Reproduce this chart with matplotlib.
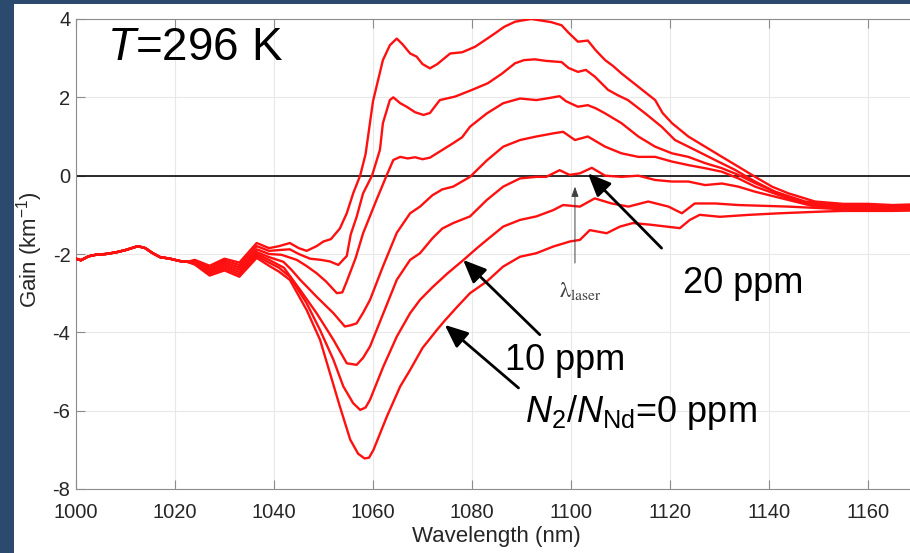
import matplotlib
matplotlib.use('Agg')
import matplotlib.pyplot as plt
from matplotlib.patches import Rectangle

plt.rcParams['font.family'] = ['Liberation Sans', 'DejaVu Sans']
plt.rcParams['mathtext.fontset'] = 'custom'
plt.rcParams['mathtext.rm'] = 'Liberation Sans'
plt.rcParams['mathtext.it'] = 'Liberation Sans:italic'
plt.rcParams['axes.unicode_minus'] = False

# part shared by all curves (they overlap below ~1023 nm)
wl_common = [1000, 1001, 1002.5, 1004, 1006, 1008, 1010, 1011.5, 1012.5, 1014, 1015.5, 1017, 1019, 1021, 1022.5]
g_common = [-2.12, -2.16, -2.06, -2.02, -2.0, -1.96, -1.9, -1.84, -1.8, -1.85, -1.98, -2.08, -2.12, -2.18, -2.2]

# N2/NNd = 60 ppm (top)
wl_60 = [1024, 1027, 1030, 1033, 1036.5, 1039, 1041, 1043.2, 1045, 1046.6, 1048.6, 1050, 1051.5, 1053.3,
         1054.7, 1056, 1057.4, 1058.5, 1060, 1062, 1063.4, 1064.8, 1066, 1067.5, 1068.8, 1070, 1071.5, 1073,
         1075.6, 1078, 1080.6, 1082.5, 1084.6, 1086.5, 1088.7, 1090, 1092, 1094, 1096, 1098.1, 1099.5, 1101.4,
         1103.4, 1105, 1106.9, 1108.5, 1110.2, 1113.6, 1117, 1118.5, 1120.4, 1123.7, 1125, 1127.1, 1130.5,
         1133.8, 1137.2, 1140.6, 1143.9, 1149.3, 1155, 1160, 1165, 1170]
g_60 = [-2.15, -2.3, -2.12, -2.22, -1.72, -1.85, -1.8, -1.72, -1.85, -1.92, -1.8, -1.68, -1.62, -1.35,
        -0.96, -0.45, 0.0, 0.55, 1.9, 2.95, 3.33, 3.5, 3.35, 3.12, 3.04, 2.85, 2.74, 2.85,
        3.12, 3.15, 3.29, 3.45, 3.63, 3.8, 3.93, 3.96, 4.0, 3.96, 3.92, 3.84, 3.65, 3.42,
        3.45, 3.2, 2.95, 2.8, 2.61, 2.27, 1.93, 1.6, 1.34, 1.0, 0.9, 0.74, 0.48,
        0.23, -0.03, -0.28, -0.45, -0.66, -0.72, -0.72, -0.75, -0.73]

# 50 ppm
wl_50 = [1024, 1027, 1030, 1033, 1036.5, 1039, 1041, 1043.2, 1045, 1047.3, 1049.5, 1051.3, 1053, 1054.7,
         1055.5, 1056.7, 1058, 1059.8, 1061.4, 1062, 1063.4, 1064.1, 1065.5, 1066.8, 1068.5, 1070.2, 1071.5,
         1073.5, 1076.6, 1080, 1083.2, 1086, 1088.7, 1090.5, 1092.7, 1095, 1098.1, 1099.5, 1101.4, 1103,
         1104.8, 1107.5, 1109.5, 1111.5, 1115, 1118.3, 1121, 1125, 1129.1, 1133.1, 1137.2, 1141.2, 1147.3,
         1155, 1160, 1165, 1170]
g_50 = [-2.17, -2.34, -2.17, -2.28, -1.8, -1.92, -1.9, -1.88, -2.0, -2.12, -2.15, -2.19, -2.28, -2.05,
        -1.5, -1.05, -0.45, 0.0, 0.66, 1.34, 1.93, 2.0, 1.85, 1.76, 1.62, 1.55, 1.6,
        1.93, 2.02, 2.19, 2.36, 2.6, 2.87, 2.95, 2.97, 2.93, 2.9, 2.75, 2.65, 2.7,
        2.53, 2.19, 2.05, 1.93, 1.59, 1.25, 0.91, 0.66, 0.4, 0.15, -0.15, -0.41, -0.66,
        -0.74, -0.75, -0.77, -0.76]

# 40 ppm
wl_40 = [1024, 1027, 1030, 1033, 1036.5, 1039, 1041.5, 1044.6, 1046.5, 1048.6, 1050.5, 1052.7, 1053.8, 1054.7,
         1056.5, 1058, 1060.7, 1062.8, 1064.1, 1065.5, 1067, 1068.5, 1070, 1071.5, 1072.9, 1076.2, 1078,
         1079.6, 1083, 1086.3, 1089.7, 1093, 1095.5, 1097.7, 1099, 1101.4, 1103.4, 1105, 1106.9, 1110.2,
         1113.6, 1117, 1120.4, 1123.7, 1127.1, 1130.5, 1133.8, 1137.2, 1141.2, 1147.3, 1155, 1160, 1165, 1170]
g_40 = [-2.19, -2.38, -2.22, -2.34, -1.88, -2.0, -2.02, -2.15, -2.3, -2.49, -2.7, -3.0, -2.98, -2.7,
        -2.1, -1.47, -0.62, 0.02, 0.4, 0.48, 0.44, 0.47, 0.42, 0.46, 0.57, 0.83, 0.98,
        1.25, 1.59, 1.85, 1.97, 1.93, 1.98, 2.03, 1.9, 1.76, 1.8, 1.72, 1.59, 1.34,
        1.0, 0.74, 0.57, 0.48, 0.32, 0.19, 0.02, -0.19, -0.41, -0.7, -0.77, -0.78, -0.8, -0.79]

# 30 ppm
wl_30 = [1024, 1027, 1030, 1033, 1036.5, 1039, 1041.9, 1043.5, 1045.3, 1047, 1048.6, 1050.3, 1052, 1054.3,
         1055.5, 1056.7, 1058, 1059.4, 1062, 1064.8, 1067.5, 1069.5, 1072, 1074, 1076.2, 1079.6, 1083,
         1086.3, 1089.7, 1093, 1096.4, 1098.4, 1100.8, 1103.4, 1106.9, 1110.2, 1113.6, 1117, 1120.4, 1123.7,
         1127.1, 1130.5, 1133.8, 1137.2, 1143.9, 1149.3, 1155, 1160, 1165, 1170]
g_30 = [-2.21, -2.42, -2.27, -2.4, -1.95, -2.08, -2.2, -2.4, -2.66, -2.88, -3.09, -3.3, -3.51, -3.85,
        -3.82, -3.77, -3.5, -3.17, -2.32, -1.46, -0.96, -0.79, -0.5, -0.35, -0.28, -0.03, 0.39,
        0.74, 0.91, 1.0, 1.08, 1.12, 0.91, 1.0, 0.74, 0.57, 0.48, 0.48, 0.36, 0.27,
        0.19, 0.1, -0.07, -0.28, -0.58, -0.75, -0.8, -0.81, -0.83, -0.82]

# 20 ppm
wl_20 = [1024, 1027, 1030, 1033, 1036.5, 1039, 1042, 1045.3, 1048.6, 1052, 1054.7, 1056.7, 1058, 1059.4,
         1062.1, 1064.8, 1067.5, 1069.5, 1072, 1074, 1076.2, 1079.6, 1083, 1086.3, 1089.7, 1093, 1095,
         1097.7, 1099.7, 1101.8, 1104.2, 1106.9, 1110.2, 1113.6, 1117, 1120.4, 1123.7, 1127.1, 1130.5,
         1133.8, 1137.2, 1143.9, 1149.3, 1155, 1160, 1165, 1170]
g_20 = [-2.23, -2.46, -2.32, -2.46, -2.0, -2.15, -2.35, -2.92, -3.51, -4.19, -4.79, -4.83, -4.65, -4.36,
        -3.51, -2.66, -2.15, -1.98, -1.6, -1.35, -1.21, -1.04, -0.62, -0.28, -0.07, -0.03, -0.03,
        0.14, 0.02, 0.06, 0.2, 0.0, -0.03, 0.0, -0.11, -0.15, -0.15, -0.24, -0.2,
        -0.28, -0.41, -0.62, -0.79, -0.83, -0.84, -0.86, -0.85]

# 10 ppm
wl_10 = [1024, 1027, 1030, 1033, 1036.5, 1039, 1041, 1043.2, 1046.6, 1049.3, 1052, 1054, 1056, 1057.4,
         1058.5, 1059.4, 1062.1, 1064.8, 1067.5, 1069.5, 1072, 1075, 1078.3, 1081, 1083, 1086.3, 1089.7,
         1093, 1096.4, 1098.4, 1101.8, 1104.8, 1108.2, 1111.6, 1115.6, 1119.7, 1122.4, 1125, 1129.1,
         1133.8, 1143.9, 1150.6, 1155, 1160, 1165, 1170]
g_10 = [-2.25, -2.5, -2.37, -2.52, -2.05, -2.22, -2.35, -2.58, -3.26, -3.94, -4.7, -5.38, -5.81, -5.98,
        -5.92, -5.72, -4.87, -4.11, -3.51, -3.17, -2.85, -2.5, -2.15, -1.85, -1.64, -1.3, -1.13,
        -1.04, -0.88, -0.75, -0.79, -0.58, -0.71, -0.79, -0.66, -0.79, -0.96, -0.71, -0.71,
        -0.75, -0.79, -0.83, -0.86, -0.87, -0.89, -0.88]

# 0 ppm (bottom)
wl_0 = [1024, 1027, 1030, 1033, 1036.5, 1039, 1041, 1043.2, 1046.6, 1049.3, 1051.3, 1053.3, 1055.4, 1057,
        1058.3, 1059.2, 1060.1, 1062.8, 1065.5, 1067.5, 1070, 1072.9, 1074.5, 1077, 1079.6, 1083, 1086.3,
        1089.7, 1093, 1096.4, 1099.8, 1101.8, 1103.8, 1107.2, 1109.9, 1112.5, 1115.9, 1119.3, 1122, 1124,
        1126, 1130.1, 1136, 1142.2, 1150, 1155, 1160, 1165, 1170]
g_0 = [-2.27, -2.55, -2.42, -2.58, -2.1, -2.3, -2.45, -2.66, -3.43, -4.19, -5.04, -5.89, -6.74, -7.1,
       -7.22, -7.2, -7.0, -6.15, -5.38, -4.96, -4.4, -3.94, -3.7, -3.35, -3.0, -2.7, -2.32,
       -2.07, -1.98, -1.81, -1.68, -1.64, -1.39, -1.47, -1.3, -1.21, -1.25, -1.3, -1.34, -1.13,
       -1.0, -1.05, -1.0, -0.96, -0.92, -0.9, -0.9, -0.9, -0.88]

curves = [(wl_60, g_60), (wl_50, g_50), (wl_40, g_40), (wl_30, g_30),
          (wl_20, g_20), (wl_10, g_10), (wl_0, g_0)]

navy = '#2b4a6e'
fig = plt.figure(figsize=(9.1, 5.53), dpi=100)
fig.patch.set_facecolor(navy)
fig.add_artist(Rectangle((14 / 910, 0), 1, 549 / 553, transform=fig.transFigure,
                         facecolor='white', edgecolor='none', zorder=-10))

# axes run to 1170 nm, the right part is cut off by the figure edge like in the original
ax = fig.add_axes([76 / 910, 64 / 553, 841.5 / 910, 470 / 553])

for wl, g in curves:
    ax.plot(wl_common + wl, g_common + g, color='#ff1010', lw=1.7, zorder=3)

ax.axhline(0, color='#1a1a1a', lw=1.3, zorder=2)

ax.set_xlim(1000, 1170)
ax.set_ylim(-8, 4)
ax.set_xticks(range(1000, 1161, 20))
ax.set_yticks(range(-8, 5, 2))
ax.grid(True, color='#e8e8e8', lw=0.8)
ax.set_axisbelow(True)
for s in ['left', 'bottom', 'top']:
    ax.spines[s].set_color('#8c8c8c')
ax.spines['right'].set_visible(False)
ax.tick_params(direction='in', length=6.5, width=0.8, color='#8c8c8c', top=True, right=False,
               labelsize=14.5, labelcolor='#262626', pad=4)
ax.tick_params(axis='x', pad=10)

ax.set_xlabel('Wavelength (nm)', fontsize=16, color='#262626', labelpad=3)
ax.set_ylabel('Gain (km$^{-1}$)', fontsize=16, color='#262626')
ax.yaxis.set_label_coords(-0.037, 0.51)

# annotations
ax.text(1006.3, 2.95, r'$\mathit{T}$=296 K', fontsize=33)
ax.text(1122.6, -3.0, '20 ppm', fontsize=26)
ax.text(1086.7, -4.96, '10 ppm', fontsize=26)
ax.text(1090.7, -6.28, r'$\mathit{N}_2$/$\mathit{N}_{\mathrm{Nd}}$=0 ppm', fontsize=26)

arrow = dict(arrowstyle='-|>,head_length=0.7,head_width=0.3', color='k', lw=2, mutation_scale=20,
             shrinkA=0, shrinkB=0)
ax.annotate('', xy=(1103.4, 0.06), xytext=(1118.3, -1.85), arrowprops=arrow, zorder=5)
ax.annotate('', xy=(1078.2, -2.15), xytext=(1093.7, -4.06), arrowprops=arrow, zorder=5)
ax.annotate('', xy=(1074.5, -3.81), xytext=(1089.4, -5.42), arrowprops=arrow, zorder=5)

# laser wavelength marker
ax.annotate('', xy=(1100.8, -0.28), xytext=(1100.8, -2.23), zorder=5,
            arrowprops=dict(arrowstyle='-|>,head_length=0.5,head_width=0.18', color='#404040',
                            lw=0.7, mutation_scale=12, shrinkA=0, shrinkB=0))
ax.text(1097.6, -2.95, r'$\mathrm{\lambda}_{\mathrm{laser}}$', fontsize=16, color='#404040',
        math_fontfamily='stix', va='center')

fig.savefig('out.png', dpi=100, facecolor=fig.get_facecolor())
